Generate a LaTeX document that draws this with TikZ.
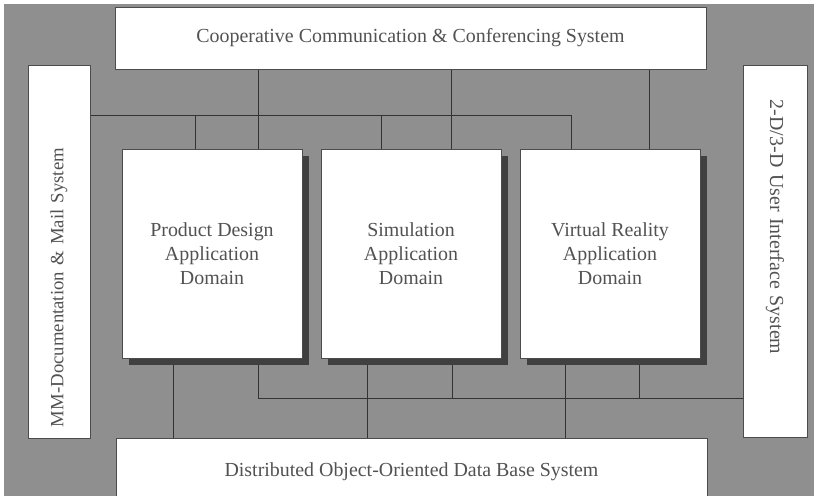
\documentclass[tikz,border=0pt]{standalone}
\usepackage{fontspec}
\setmainfont{Liberation Serif}
\usepackage{tikz}
\usetikzlibrary{
  calc,     % 坐标计算
  shadows   % 应用域方框的投影
}
\pgfdeclarelayer{bg}
\pgfdeclarelayer{wires}
\pgfsetlayers{bg,wires,main}
\definecolor{panel}{gray}{0.56}
\definecolor{inkgray}{gray}{0.32}
\tikzset{
  sysbox/.style={
    rectangle,
    draw=black!70,
    line width=0.6pt,
    fill=white,
    text=inkgray,
    inner sep=0pt,
    font=\fontsize{17}{20.5}\selectfont
  },
  appbox/.style={
    sysbox,
    align=center,
    minimum width=54mm,
    minimum height=62.7mm,
    drop shadow={shadow xshift=2mm, shadow yshift=-2mm, fill=black!75, opacity=1}
  },
  wire/.style={
    draw=black!80,
    line width=0.7pt
  }
}

\begin{document}
\begin{tikzpicture}[x=0.3mm, y=-0.3mm]
  \useasboundingbox (0,0) rectangle (814,496);

  % 1. 灰色底板
  \begin{pgfonlayer}{bg}
    \fill[panel] (4,4) rectangle (814,496);
  \end{pgfonlayer}

  % 2. 四周的系统方框
  \node[sysbox, minimum width=177.3mm, minimum height=18.6mm] (ccs) at (410.5,38)
    {Cooperative Communication \& Conferencing System};
  \node[sysbox, minimum width=177.3mm, minimum height=20.1mm] (db) at (411.5,471.5)
    {Distributed Object-Oriented Data Base System};
  \node[sysbox, rotate=90, font=\fontsize{16}{19}\selectfont, align=left,
        text width=105.3mm, inner xsep=3.3mm, minimum height=18.6mm] (mm) at (59,251.5)
    {MM-Documentation \& Mail System};
  \node[sysbox, rotate=-90, align=left,
        text width=90.6mm, inner xsep=10.5mm, minimum height=19.2mm] (ui) at (775,251)
    {2-D/3-D User Interface System};

  % 3. 中间三个应用域
  \node[appbox] (pd)  at (212,253.5) {Product Design\\Application\\Domain};
  \node[appbox] (sim) at (411,253.5) {Simulation\\Application\\Domain};
  \node[appbox] (vr)  at (610,253.5) {Virtual Reality\\Application\\Domain};

  % 4. 连线 (压在方框之下)
  \begin{pgfonlayer}{wires}
    \coordinate (topbus) at (0,115);
    \coordinate (botbus) at (0,398);
    % 上方系统 -> 各应用域
    \foreach \app/\dx in {pd/46, sim/40, vr/39} {
      \coordinate (d) at ($(\app.north)+(\dx,0)$);
      \draw[wire] (d) -- (d |- ccs.south);
    }
    % 左侧系统的总线
    \draw[wire] (topbus -| mm.south) -- ($(topbus -| vr.north)+(-39,0)$);
    \foreach \app/\dx in {pd/-17, sim/-30, vr/-39} {
      \coordinate (d) at ($(\app.north)+(\dx,0)$);
      \draw[wire] (d) -- (d |- topbus);
    }
    % 各应用域 -> 下方数据库
    \foreach \app/\dx in {pd/-39, sim/-44, vr/-45} {
      \coordinate (d) at ($(\app.south)+(\dx,0)$);
      \draw[wire] (d) -- (d |- db.north);
    }
    % 右侧系统的总线
    \draw[wire] ($(botbus -| pd.south)+(46,0)$) -- (botbus -| ui.south);
    \foreach \app/\dx in {pd/46, sim/41, vr/29} {
      \coordinate (d) at ($(\app.south)+(\dx,0)$);
      \draw[wire] (d) -- (d |- botbus);
    }
  \end{pgfonlayer}

\end{tikzpicture}
\end{document}
